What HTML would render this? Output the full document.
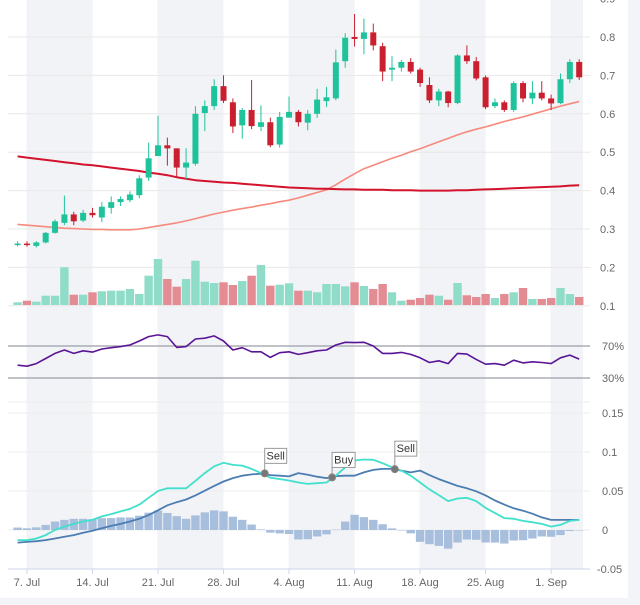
<!DOCTYPE html>
<html><head><meta charset="utf-8"><style>
html,body{margin:0;padding:0;background:#fff;}
body{width:640px;height:605px;overflow:hidden;position:relative;}
svg{position:absolute;left:0;top:0;}
text{font-family:"Liberation Sans",sans-serif;fill:#666;font-size:11px;}
</style></head><body>
<svg id="chart" width="640" height="605" viewBox="0 0 640 605"></svg>
<script>
// ---- data ----
const tickLabels = ["7. Jul","14. Jul","21. Jul","28. Jul","4. Aug","11. Aug","18. Aug","25. Aug","1. Sep"];
const tickIdx = [1,8,15,22,29,36,43,50,57];
const priceTicks = [0.1,0.2,0.3,0.4,0.5,0.6,0.7,0.8,0.9];
const rsiTicks = [30,70];
const macdTicks = [-0.05,0,0.05,0.1,0.15];
const openV = [.26,.262,.256,.265,.29,.316,.338,.322,.342,.33,.355,.37,.375,.388,.434,.49,.518,.51,.46,.47,.602,.62,.672,.63,.57,.61,.566,.578,.52,.59,.605,.577,.6,.633,.64,.737,.8,.795,.812,.776,.715,.72,.735,.715,.675,.635,.658,.628,.752,.737,.695,.62,.63,.61,.68,.64,.655,.64,.628,.69,.735];
const closeV = [.262,.258,.265,.29,.32,.338,.32,.342,.336,.358,.37,.378,.39,.432,.484,.518,.51,.46,.473,.6,.62,.672,.634,.567,.61,.568,.578,.518,.592,.605,.578,.6,.637,.643,.734,.798,.795,.812,.778,.71,.72,.735,.71,.68,.635,.658,.628,.752,.737,.692,.617,.63,.61,.68,.64,.655,.64,.627,.69,.735,.695];
const highV = [.268,.268,.268,.292,.325,.387,.345,.35,.355,.37,.385,.385,.398,.44,.525,.595,.538,.51,.51,.62,.635,.69,.7,.64,.615,.688,.622,.59,.605,.645,.61,.61,.665,.67,.767,.81,.86,.848,.835,.785,.75,.74,.745,.72,.695,.665,.66,.755,.778,.748,.7,.64,.635,.685,.685,.685,.685,.65,.705,.742,.742];
const lowV = [.255,.254,.252,.262,.288,.31,.31,.318,.33,.318,.34,.36,.37,.38,.425,.49,.465,.435,.43,.465,.555,.61,.628,.55,.535,.56,.555,.513,.512,.59,.567,.557,.59,.618,.635,.72,.775,.755,.765,.685,.685,.71,.705,.67,.628,.62,.617,.625,.73,.687,.612,.615,.605,.605,.63,.625,.635,.61,.625,.68,.688];
const volumeV = [2.7,4.3,3.3,9.3,9.3,37.7,10.3,10.3,12.7,13.7,14.3,14.3,16,11,29.3,46,26,18.3,26,44.3,23.3,22,22.7,20,24,29.3,40,19.3,20.3,21.7,14.3,14.3,12.7,21,21,18.7,22.7,19,16,21,12.7,4.3,5.3,7,10.3,9.3,5.3,22,9.7,8,11,7,11,12.7,17,6,6,7,17,11,8];
const smaLong = [.489,.486,.483,.480,.477,.474,.471,.468,.466,.463,.460,.457,.454,.451,.447,.444,.440,.435,.431,.427,.425,.423,.421,.420,.418,.416,.414,.412,.410,.408,.407,.406,.405,.405,.404,.403,.403,.402,.402,.402,.401,.401,.401,.400,.400,.400,.400,.401,.401,.402,.403,.404,.405,.406,.407,.408,.409,.410,.411,.413,.414];
const smaShort = [.312,.310,.308,.306,.304,.302,.301,.300,.299,.299,.298,.298,.298,.300,.304,.308,.312,.316,.321,.327,.333,.339,.344,.349,.353,.357,.362,.366,.371,.375,.381,.388,.395,.402,.415,.430,.444,.457,.466,.475,.484,.492,.501,.509,.518,.527,.536,.545,.553,.560,.566,.573,.580,.586,.592,.599,.606,.613,.620,.626,.632];
const rsiV = [46,44.7,48,54.4,60.7,65,60.7,64,62.4,66.2,67.9,69.2,71.3,76.3,81.8,83.9,81.8,68.3,69.2,78.8,79.7,82.6,76.3,65,67.9,62.8,62.8,55.7,61.6,62.8,59.5,61.6,64,65,71.3,74.6,74.2,74.6,70,60.7,60.7,62,59.5,55.3,49.4,51.5,48,60.7,59.9,53.2,47.3,48,46,52.3,48.9,50.2,49.4,48,55.3,58.6,53.6];
const macdV = [-.013,-.013,-.0109,-.0065,0,.0043,.0078,.0109,.013,.0174,.0204,.0239,.027,.0326,.0413,.05,.0535,.0535,.0535,.063,.073,.0817,.0861,.0835,.0826,.0783,.073,.067,.0652,.0635,.0609,.0591,.06,.0609,.0696,.0804,.0891,.0904,.09,.0857,.0804,.0761,.0696,.0609,.0522,.0448,.037,.0404,.0413,.037,.0283,.0217,.0152,.0143,.0117,.01,.0078,.0043,.0065,.0117,.013];
const signalV = [-.0161,-.0152,-.0143,-.013,-.0109,-.0087,-.0065,-.0035,-.0009,.0022,.0052,.0078,.0109,.0143,.0191,.0252,.0317,.0357,.0391,.0443,.0504,.0565,.0622,.0665,.0696,.0713,.0722,.0704,.0696,.0687,.073,.0709,.0683,.0665,.0691,.0696,.0696,.0739,.077,.0783,.0783,.0761,.0739,.0761,.0704,.0652,.0609,.0565,.0535,.0496,.0443,.0378,.0326,.0278,.0248,.0209,.0161,.013,.013,.013,.013];
const flagIdx = [26.4,33.6,40.3];
const flagVal = [.0726,.0674,.078];
const flagText = ["Sell","Buy","Sell"];

// ---- scales ----
const xOf = i => 17.6 + i*9.36;
const yP = v => 37 + (0.8 - v)*384;
const yV = v => 305 - v;
const yR = v => 346 + (70 - v)*0.8;
const yM = v => 530 - v*780;
const NS = "http://www.w3.org/2000/svg";
const svg = document.getElementById('chart');
function mk(tag, attrs, parent){const e=document.createElementNS(NS,tag);for(const k in attrs)e.setAttribute(k,attrs[k]);(parent||svg).appendChild(e);return e;}

// background strips
let r = mk('rect',{x:628,y:0,width:12,height:605,fill:'#f2f4f7'});


r = mk('rect',{x:0,y:598,width:640,height:7,fill:'#f2f4f7'});



// week bands
for (let k=0;k<tickIdx.length;k+=2){
  const x0 = xOf(tickIdx[k]-0.05);
  const x1 = Math.min(xOf(tickIdx[k]+7), 583);
  const b = mk('rect',{x:x0,y:0,width:x1-x0,height:569,fill:'#f2f3f6'});
  
  
}

// price grid
priceTicks.forEach(v=>{
  const y=yP(v);
  const l=mk('line',{x1:8,x2:590,y1:y,y2:y,stroke:'#e8e8e8','stroke-width':1});
  
  
  const t=mk('text',{x:600,y:y+4});
  t.textContent=v.toFixed(1);
  
  
});
// rsi lines
rsiTicks.forEach(v=>{
  const y=yR(v);
  const l=mk('line',{x1:8,x2:590,y1:y,y2:y,stroke:'#9a9ea6','stroke-width':1.2});
  
  
  const t=mk('text',{x:602,y:y+4,'font-size':'10'});
  t.textContent=v+'%';
  
  
});
let sep = mk('line',{x1:8,x2:590,y1:yR(0),y2:yR(0),stroke:'#ececec'});


// macd grid
macdTicks.forEach(v=>{
  const y=yM(v);
  const l=mk('line',{x1:8,x2:590,y1:y,y2:y,stroke:v===-0.05?'#ccd6eb':'#ececec'});
  
  
  const t=mk('text',{x:v<0?597:602,y:y+4});
  t.textContent=String(v);
  
  
});
// x ticks
tickIdx.forEach((d,k)=>{
  const x=xOf(d);
  const tl=mk('line',{x1:x,x2:x,y1:569,y2:574,stroke:'#ccd6eb'});
  
  
  const t=mk('text',{x:x,y:586,'text-anchor':'middle'});
  t.textContent=tickLabels[k];
  
  
});

// volume
volumeV.forEach((v,i)=>{
  const up = closeV[i]>=openV[i];
  const b=mk('rect',{x:xOf(i)-4.2,y:yV(v),width:8.4,height:v,fill:up?'#8fdcc8':'#e38c93'});
  
  
});

function line(arr, yf, color, w, name){
  const d = arr.map((v,i)=>(i?'L':'M')+xOf(i).toFixed(1)+','+yf(v).toFixed(1)).join('');
  const p=mk('path',{d:d,fill:'none',stroke:color,'stroke-width':w,'stroke-linejoin':'round'});
  
  
}
line(smaShort,yP,'#f7897d',1.6,'sma-short-line');
line(smaLong,yP,'#d3122c',2,'sma-long-line');

// candles
openV.forEach((o,i)=>{
  const c=closeV[i], up=c>=o, col=up?'#1fc39b':'#c91f2f', x=xOf(i);
  const g=mk('g',{});
  
  
  mk('line',{x1:x,x2:x,y1:yP(highV[i]),y2:yP(lowV[i]),stroke:col,'stroke-width':1},g);
  const top=yP(Math.max(o,c)), h=Math.max(1.5,Math.abs(yP(o)-yP(c)));
  mk('rect',{x:x-3,y:top,width:6,height:h,fill:col},g);
});

// rsi
line(rsiV,yR,'#5a1596',1.6,'rsi-line');

// macd histogram
macdV.forEach((m,i)=>{
  const h=m-signalV[i], y0=yM(0), y1=yM(h);
  const b=mk('rect',{x:xOf(i)-4.2,y:Math.min(y0,y1),width:8.4,height:Math.max(0.5,Math.abs(y1-y0)),fill:'#a8bedd'});
  
  
});
line(signalV,yM,'#4b7db3',1.8,'macd-signal-line');
line(macdV,yM,'#41e0cc',1.8,'macd-line');

// flags
flagIdx.forEach((fi,k)=>{
  const x=xOf(fi), y=yM(flagVal[k]);
  const g=mk('g',{});
  
  
  const bh=15, bw=flagText[k]==='Buy'?23:22, by=y-10-bh-(k===1?0:(k===0?0:3));
  mk('line',{x1:x,x2:x,y1:by+bh,y2:y,stroke:'#999'},g);
  mk('rect',{x:x,y:by,width:bw,height:bh,fill:'#fff',stroke:'#999'},g);
  const t=mk('text',{x:x+bw/2,y:by+11,'text-anchor':'middle','font-size':'10',fill:'#333'},g);
  t.style.fill='#333';
  t.textContent=flagText[k];
  mk('circle',{cx:x,cy:y,r:3.5,fill:'#777',stroke:'#888'},g);
});
</script>
</body></html>
